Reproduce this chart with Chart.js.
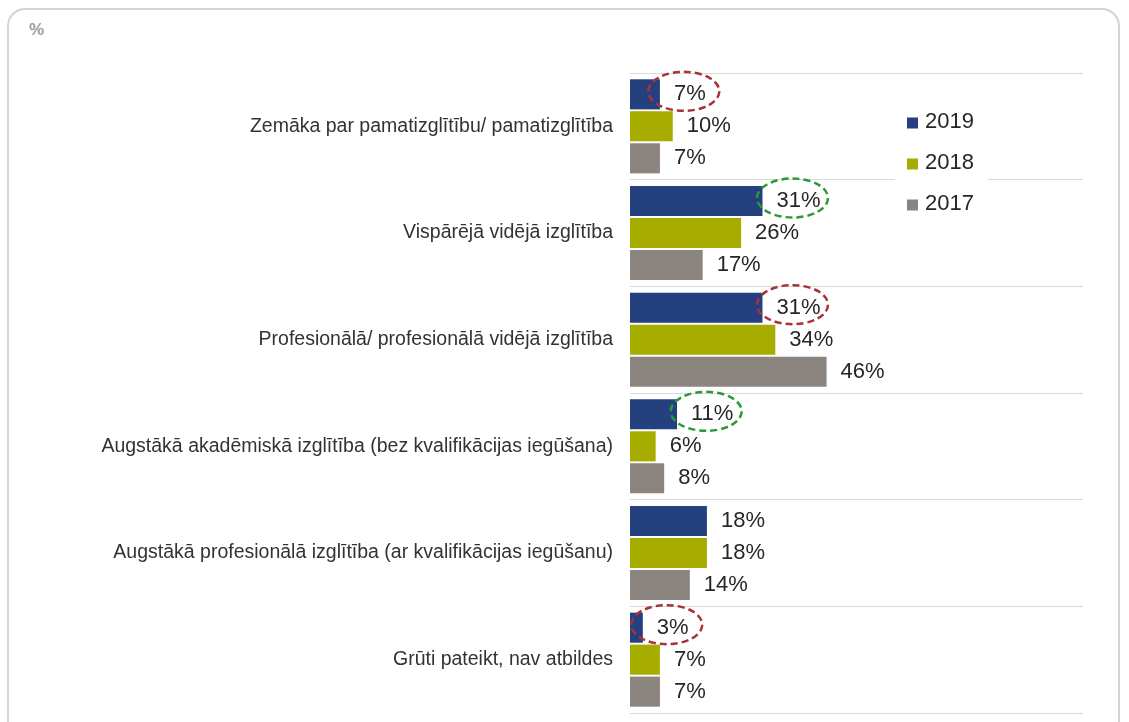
<!DOCTYPE html>
<html>
<head>
<meta charset="utf-8">
<script src="https://cdn.jsdelivr.net/npm/chart.js@4/dist/chart.umd.min.js"></script>
<style>
    html, body { margin: 0; padding: 0; background: #fff; }
    body { width: 1129px; height: 722px; position: relative; overflow: hidden; font-family: "Liberation Sans", Arial, sans-serif; }
    #frame { position: absolute; left: 7px; top: 8px; width: 1113px; height: 740px; border: 2px solid #d4d4d4; border-radius: 18px; box-sizing: border-box; }
    #unit { position: absolute; left: 29px; top: 20px; font-size: 17px; font-weight: bold; color: #a39e9b; }
    #wrap { position: absolute; left: 0; top: 0; width: 1129px; height: 722px; }
</style>
</head>
<body>
<div id="frame"></div>
<div id="unit">%</div>
<div id="wrap"><canvas id="chart"></canvas></div>
<script>
// Izglītības līmenis pa gadiem (%)

const kategorijas = [
    'Zemāka par pamatizglītību/ pamatizglītība',
    'Vispārējā vidējā izglītība',
    'Profesionālā/ profesionālā vidējā izglītība',
    'Augstākā akadēmiskā izglītība (bez kvalifikācijas iegūšana)',
    'Augstākā profesionālā izglītība (ar kvalifikācijas iegūšanu)',
    'Grūti pateikt, nav atbildes'
];
const gadi = ['2019', '2018', '2017'];
const vertibas2019 = [7, 31, 31, 11, 18, 3];
const vertibas2018 = [10, 26, 34, 6, 18, 7];
const vertibas2017 = [7, 17, 46, 8, 14, 7];
// iezīmētās 2019. gada vērtības (aplis ap skaitli)
const izcelt2019 = ['red', 'green', 'red', 'green', null, 'red'];

const krasas = ['#25407f', '#a6ac00', '#8c847f'];
const fonts = '"Liberation Sans", Arial, sans-serif';

// skaitļi pie stabiņiem + apļi
const vertibuUzraksti = {
    id: 'vertibuUzraksti',
    afterDatasetsDraw(chart) {
        const ctx = chart.ctx;
        ctx.save();
        ctx.font = '22px ' + fonts;
        ctx.fillStyle = '#262626';
        ctx.textBaseline = 'middle';
        ctx.textAlign = 'left';
        chart.data.datasets.forEach((ds, i) => {
            const meta = chart.getDatasetMeta(i);
            meta.data.forEach((bar, j) => {
                const txt = ds.data[j] + '%';
                const x = bar.x + 14;
                ctx.fillText(txt, x, bar.y);
                if (i === 0 && izcelt2019[j]) {
                    const w = ctx.measureText(txt).width;
                    ctx.save();
                    ctx.strokeStyle = izcelt2019[j] === 'red' ? '#a83236' : '#2a9a35';
                    ctx.lineWidth = 2.5;
                    ctx.setLineDash([7, 4]);
                    ctx.beginPath();
                    ctx.ellipse(x + w / 2 - 6, bar.y - 3, 35.5, 19.5, 0, 0, Math.PI * 2);
                    ctx.stroke();
                    ctx.restore();
                }
            });
        });
        ctx.restore();
    }
};

// leģenda grafika iekšpusē
const legendaIeksa = {
    id: 'legendaIeksa',
    afterDraw(chart) {
        const ctx = chart.ctx;
        ctx.save();
        ctx.fillStyle = '#fff';
        ctx.fillRect(895, 100, 93, 122);
        ctx.font = '22px ' + fonts;
        ctx.textBaseline = 'middle';
        gadi.forEach((g, i) => {
            const y = 120.5 + i * 41;
            ctx.fillStyle = krasas[i];
            ctx.fillRect(907, y - 3, 11, 11);
            ctx.fillStyle = '#262626';
            ctx.fillText(g, 925, y + 1);
        });
        ctx.restore();
    }
};

new Chart(document.getElementById('chart'), {
    type: 'bar',
    data: {
        labels: kategorijas,
        datasets: [
            { label: gadi[0], data: vertibas2019, backgroundColor: krasas[0] },
            { label: gadi[1], data: vertibas2018, backgroundColor: krasas[1] },
            { label: gadi[2], data: vertibas2017, backgroundColor: krasas[2] }
        ]
    },
    options: {
        indexAxis: 'y',
        responsive: true,
        maintainAspectRatio: false,
        animation: false,
        categoryPercentage: 0.9,
        barPercentage: 0.94,
        layout: { padding: { top: 73, bottom: 9, right: 46, left: 0 } },
        scales: {
            x: { display: false, min: 0, max: 106 },
            y: {
                afterFit(scale) {
                    scale.width = 630;
                    scale.paddingTop = 0;
                    scale.paddingBottom = 0;
                },
                border: { display: false },
                grid: { color: '#d9d9d9', lineWidth: 1, drawTicks: false },
                ticks: {
                    color: '#333',
                    padding: 17,
                    font: { family: fonts, size: 19.5 }
                }
            }
        },
        plugins: {
            legend: { display: false },
            tooltip: { enabled: false }
        }
    },
    plugins: [vertibuUzraksti, legendaIeksa]
});
</script>
</body>
</html>
